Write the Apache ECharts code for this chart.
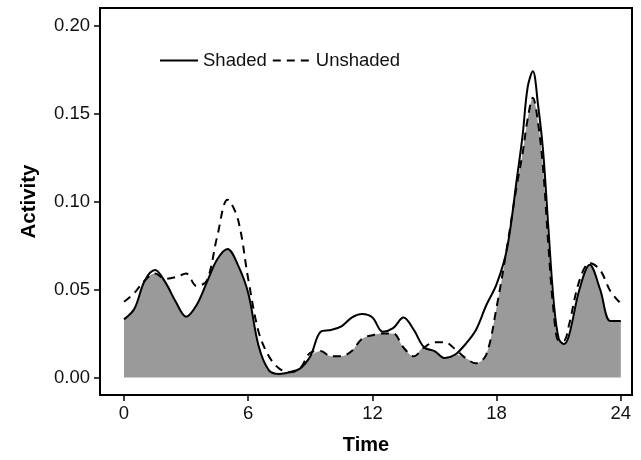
<!DOCTYPE html>
<html>
<head>
<meta charset="utf-8">
<script src="https://cdn.jsdelivr.net/npm/echarts@6/dist/echarts.min.js"></script>
<style>html,body{margin:0;padding:0;background:#fff}#c{width:641px;height:460px}</style>
</head>
<body>
<div id="c"></div>
<script>
var times = [0,0.5,1,1.5,2,2.5,3,3.5,4,4.5,5,5.5,6,6.5,7,7.5,8,8.5,9,9.5,10,10.5,11,11.5,12,12.5,13,13.5,14,14.5,15,15.5,16,16.5,17,17.5,18,18.5,19,19.25,19.5,19.75,20,20.25,20.5,20.75,21,21.25,21.5,22,22.5,23,23.5,24];
var shaded = [0.033,0.039,0.055,0.061,0.054,0.043,0.0345,0.041,0.054,0.067,0.073,0.064,0.048,0.018,0.004,0.002,0.003,0.005,0.012,0.026,0.027,0.029,0.034,0.036,0.034,0.026,0.028,0.034,0.027,0.017,0.015,0.011,0.013,0.019,0.027,0.041,0.053,0.073,0.115,0.137,0.165,0.174,0.155,0.128,0.085,0.044,0.022,0.019,0.024,0.050,0.064,0.050,0.032,0.032];
var unshaded = [0.043,0.048,0.055,0.059,0.056,0.057,0.059,0.052,0.055,0.080,0.101,0.090,0.056,0.026,0.012,0.005,0.003,0.005,0.014,0.015,0.012,0.012,0.015,0.022,0.024,0.025,0.025,0.017,0.012,0.017,0.020,0.020,0.016,0.011,0.008,0.013,0.040,0.074,0.111,0.127,0.147,0.159,0.145,0.118,0.075,0.038,0.021,0.021,0.030,0.055,0.065,0.061,0.049,0.042];
var xTicks = [0,6,12,18,24];
var yTicks = [0,0.05,0.10,0.15,0.20];
var seriesNames = ['Shaded','Unshaded'];

var overlap = times.map(function(t,i){ return [t, Math.min(shaded[i], unshaded[i])]; });
var sPts = times.map(function(t,i){ return [t, shaded[i]]; });
var uPts = times.map(function(t,i){ return [t, unshaded[i]]; });

var chart = echarts.init(document.getElementById('c'));
var FONT = 'Liberation Sans, Arial, sans-serif';
chart.setOption({
  animation: false,
  backgroundColor: '#fff',
  grid: {left: 100, right: 9, top: 8, bottom: 65, show: true, borderColor: '#000', borderWidth: 2, backgroundColor: 'transparent'},
  legend: {
    data: seriesNames, left: 154, top: 46, itemWidth: 38, itemHeight: 14, itemGap: 5,
    itemStyle: {opacity: 0},
    lineStyle: {width: 2},
    textStyle: {fontFamily: FONT, fontSize: 18.5, color: '#111'}
  },
  xAxis: {
    type: 'value', min: -1.16, max: 24.54,
    name: 'Time', nameLocation: 'middle', nameGap: 40,
    nameTextStyle: {fontFamily: FONT, fontSize: 20, fontWeight: 'bold', color: '#000'},
    axisLine: {show: false, onZero: false},
    axisTick: {show: true, length: 6, customValues: xTicks, lineStyle: {color: '#000', width: 1.5}},
    axisLabel: {customValues: xTicks, fontFamily: FONT, fontSize: 18.5, color: '#111', margin: 9},
    splitLine: {show: false}
  },
  yAxis: {
    type: 'value', min: -0.01, max: 0.21,
    name: 'Activity', nameLocation: 'middle', nameGap: 60, nameRotate: 90,
    nameTextStyle: {fontFamily: FONT, fontSize: 20.5, fontWeight: 'bold', color: '#000'},
    axisLine: {show: false, onZero: false},
    axisTick: {show: true, length: 6, customValues: yTicks, lineStyle: {color: '#000', width: 1.5}},
    axisLabel: {customValues: yTicks, fontFamily: FONT, fontSize: 18.5, color: '#111', margin: 10,
      formatter: function(v){ return v.toFixed(2); }},
    splitLine: {show: false}
  },
  series: [
    {name: 'overlap', type: 'line', data: overlap, smooth: 0.35, symbol: 'none', silent: true,
     lineStyle: {width: 0, color: '#9a9a9a'}, areaStyle: {color: '#9a9a9a', opacity: 1}, z: 1},
    {name: 'Shaded', type: 'line', data: sPts, smooth: 0.35, symbol: 'none',
     lineStyle: {width: 2, color: '#000', type: 'solid'}, itemStyle: {color: '#000'}, z: 3},
    {name: 'Unshaded', type: 'line', data: uPts, smooth: 0.35, symbol: 'none',
     lineStyle: {width: 2, color: '#000', type: [8, 6]}, itemStyle: {color: '#000'}, z: 2}
  ]
});
</script>
</body>
</html>
